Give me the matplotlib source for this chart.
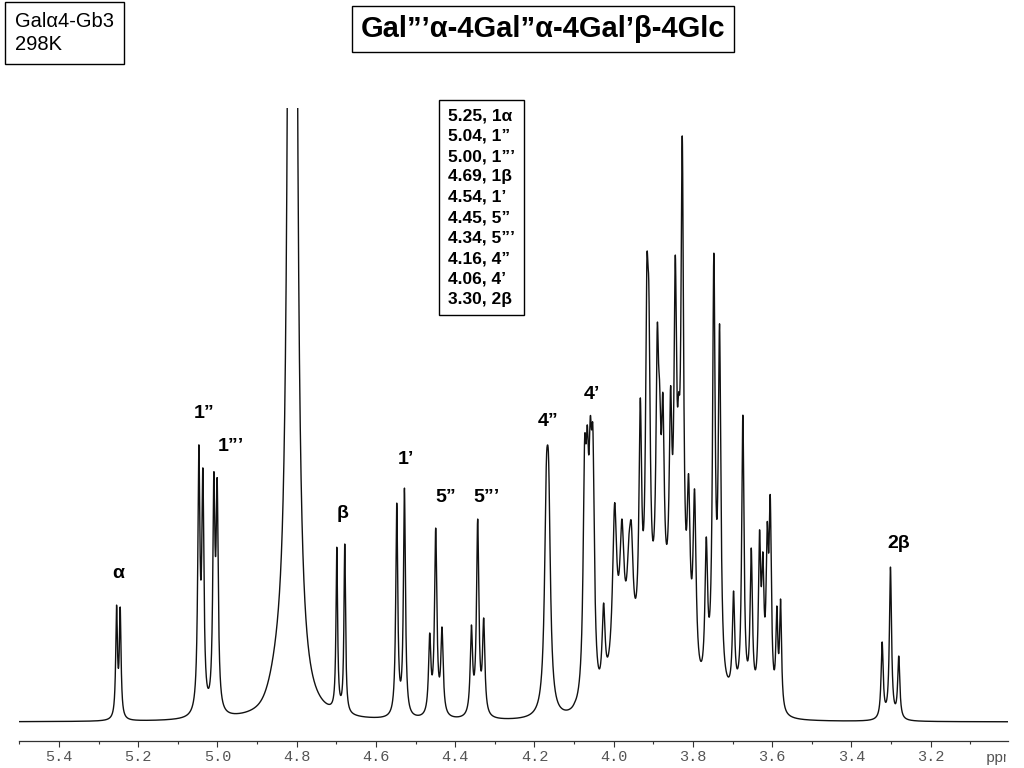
import numpy as np
import matplotlib
matplotlib.use("Agg")
import matplotlib.pyplot as plt
from matplotlib.ticker import MultipleLocator, FormatStrFormatter
from matplotlib.transforms import Bbox, TransformedBbox

# resolved multiplets: position (ppm), height above baseline, half width (ppm)
sharp_ppm = [5.2545, 5.2454, 5.0469, 5.0368, 5.0090, 5.0007,
             4.6988, 4.6787, 4.5475, 4.5281,
             4.4643, 4.4492, 4.4333, 4.3591, 4.3433, 4.3281]
sharp_height = [117, 115, 277, 254, 250, 244,
                175, 178, 219, 234,
                89, 194, 95, 97, 203, 104]
sharp_hwhm = [0.0026, 0.0026, 0.0032, 0.0032, 0.0032, 0.0032,
              0.0024, 0.0024, 0.0030, 0.0030,
              0.0035, 0.0035, 0.0035, 0.0035, 0.0035, 0.0035]

# 4'' / 4' and the crowded ring-proton region, plus H-2 beta
ring_ppm = [4.1700, 4.1642, 4.115, 4.098,
            4.0734, 4.0666, 4.0590, 4.0525,
            4.0255, 3.9977, 3.9793, 3.9617, 3.9556, 3.9329, 3.9163, 3.9112,
            3.8900, 3.8842, 3.8759, 3.8565, 3.8446, 3.8360, 3.8270, 3.8111,
            3.7960, 3.7664, 3.7473, 3.7329, 3.6976, 3.6741, 3.6529, 3.6320,
            3.6237, 3.6126, 3.6050, 3.5884, 3.5790,
            3.3226, 3.3016, 3.2807]
ring_height = [260, 262, 12, 20,
               284, 297, 306, 294,
               119, 219, 203, 186, 200, 324, 463, 434,
               398, 340, 329, 336, 467, 330, 586, 248,
               233, 185, 469, 398, 131, 307, 174, 192,
               170, 200, 227, 116, 123,
               80, 155, 66]
ring_hwhm = [0.0055, 0.0055, 0.004, 0.004,
             0.0045, 0.0045, 0.0045, 0.0045,
             0.0045, 0.006, 0.006, 0.0055, 0.0055, 0.004, 0.004, 0.004,
             0.004, 0.004, 0.004, 0.004, 0.004, 0.004, 0.004, 0.0045,
             0.0045, 0.004, 0.004, 0.004, 0.0035, 0.0035, 0.0035, 0.0035,
             0.0035, 0.0035, 0.0035, 0.003, 0.003,
             0.0032, 0.0032, 0.0032]

# HDO signal, runs off the top of the plot
water_ppm = 4.8106
water_height = 5000
water_hwhm = 0.0049

# broad underlying humps (ppm, height, sigma)
hump_ppm = [4.845, 3.88, 3.98, 3.70]
hump_height = [20, 90, 50, 15]
hump_sigma = [0.02, 0.05, 0.025, 0.05]

# peak labels and the shift table
label_text = ["\u03b1", "1\u201d", "1\u201d\u2019", "\u03b2", "1\u2019",
              "5\u201d", "5\u201d\u2019", "4\u201d", "4\u2019", "2\u03b2"]
label_ppm = [5.25, 5.04, 5.00, 4.69, 4.54, 4.45, 4.34, 4.16, 4.06, 3.30]
label_dx = [0, 3, 13, 2, 6, 10, 8, -2, 2, 8]
label_dy = [32, 31, 25, 31, 29, 31, 22, 23, 21, 24]

table_ppm = ["5.25", "5.04", "5.00", "4.69", "4.54", "4.45", "4.34", "4.16", "4.06", "3.30"]
table_name = ["1\u03b1", "1\u201d", "1\u201d\u2019", "1\u03b2", "1\u2019",
              "5\u201d", "5\u201d\u2019", "4\u201d", "4\u2019", "2\u03b2"]


def lorentz(x, c, w):
    return w ** 2 / ((x - c) ** 2 + w ** 2)


def gauss(x, c, s):
    return np.exp(-0.5 * ((x - c) / s) ** 2)


ppm = np.linspace(5.5, 3.0, 12000)

centers = np.array(sharp_ppm + ring_ppm)
targets = np.array(sharp_height + ring_height, dtype=float)
widths = np.array(sharp_hwhm + ring_hwhm)


def background(x):
    b = water_height * lorentz(x, water_ppm, water_hwhm)
    for c, h, s in zip(hump_ppm, hump_height, hump_sigma):
        b = b + h * gauss(x, c, s)
    return b


# solve for line amplitudes so the summed curve hits the read-off heights
A = np.array([[lorentz(ci, cj, wj) for cj, wj in zip(centers, widths)] for ci in centers])
amps = np.linalg.solve(A, targets - background(centers))
amps = np.clip(amps, 0, None)

spec = background(ppm)
for a, c, w in zip(amps, centers, widths):
    spec = spec + a * lorentz(ppm, c, w)

fig = plt.figure(figsize=(10.24, 7.68), dpi=100)
ax = fig.add_axes([19.3 / 1024, (768 - 740.7) / 768, (1008 - 19.3) / 1024, (740.7 - 108) / 768])
ax.plot(ppm, spec, color="#111111", lw=1.0)
ax.set_xlim(5.5, 3.005)
ax.set_ylim(-18.7, 614)

for s in ["top", "left", "right"]:
    ax.spines[s].set_visible(False)
ax.spines["bottom"].set_color("#333333")
ax.spines["bottom"].set_linewidth(0.9)
ax.set_yticks([])
ax.xaxis.set_major_locator(MultipleLocator(0.2))
ax.xaxis.set_minor_locator(MultipleLocator(0.1))
ax.xaxis.set_major_formatter(FormatStrFormatter("%.1f"))
ax.tick_params(axis="x", which="major", direction="out", length=4, width=0.8,
               color="#333333", pad=3, labelsize=11, labelcolor="#555555")
ax.tick_params(axis="x", which="minor", direction="out", length=1.8, width=0.8, color="#333333")
for lab in ax.get_xticklabels():
    lab.set_family("Liberation Mono")

# axis unit, cut off at the right edge as in the original
ppm_lab = fig.text(986 / 1024, 1 - 758 / 768, "ppm", family="Liberation Mono", fontsize=11,
                   color="#555555", ha="left", va="center")
ppm_lab.set_clip_on(True)
ppm_lab.set_clip_box(TransformedBbox(Bbox([[0, 0], [1006 / 1024, 1]]), fig.transFigure))

for txt, p, dx, dy in zip(label_text, label_ppm, label_dx, label_dy):
    near = np.abs(ppm - p) < 0.015
    top = spec[near].max()
    ax.annotate(txt, xy=(p, top), xytext=(dx, dy), textcoords="offset pixels",
                ha="center", va="center", fontsize=14, fontweight="bold",
                family="Liberation Sans")

fig.text(543 / 1024, 1 - 29 / 768, "Gal\u201d\u2019\u03b1-4Gal\u201d\u03b1-4Gal\u2019\u03b2-4Glc",
         ha="center", va="center", fontsize=21, fontweight="bold", family="Liberation Sans",
         bbox=dict(boxstyle="square,pad=0.3", fc="white", ec="black", lw=1))

fig.text(15 / 1024, 1 - 33 / 768, "Gal\u03b14-Gb3\n298K", ha="left", va="center",
         fontsize=14.5, family="Liberation Sans", linespacing=1.3,
         bbox=dict(boxstyle="square,pad=0.5", fc="white", ec="black", lw=1))

table_lines = "\n".join(f"{a}, {b}" for a, b in zip(table_ppm, table_name))
fig.text(448 / 1024, 1 - 207.5 / 768, table_lines, ha="left", va="center",
         fontsize=12.5, fontweight="bold", family="Liberation Sans", linespacing=1.45,
         bbox=dict(boxstyle="square,pad=0.5", fc="white", ec="black", lw=1))

fig.savefig("out.png", dpi=100)
